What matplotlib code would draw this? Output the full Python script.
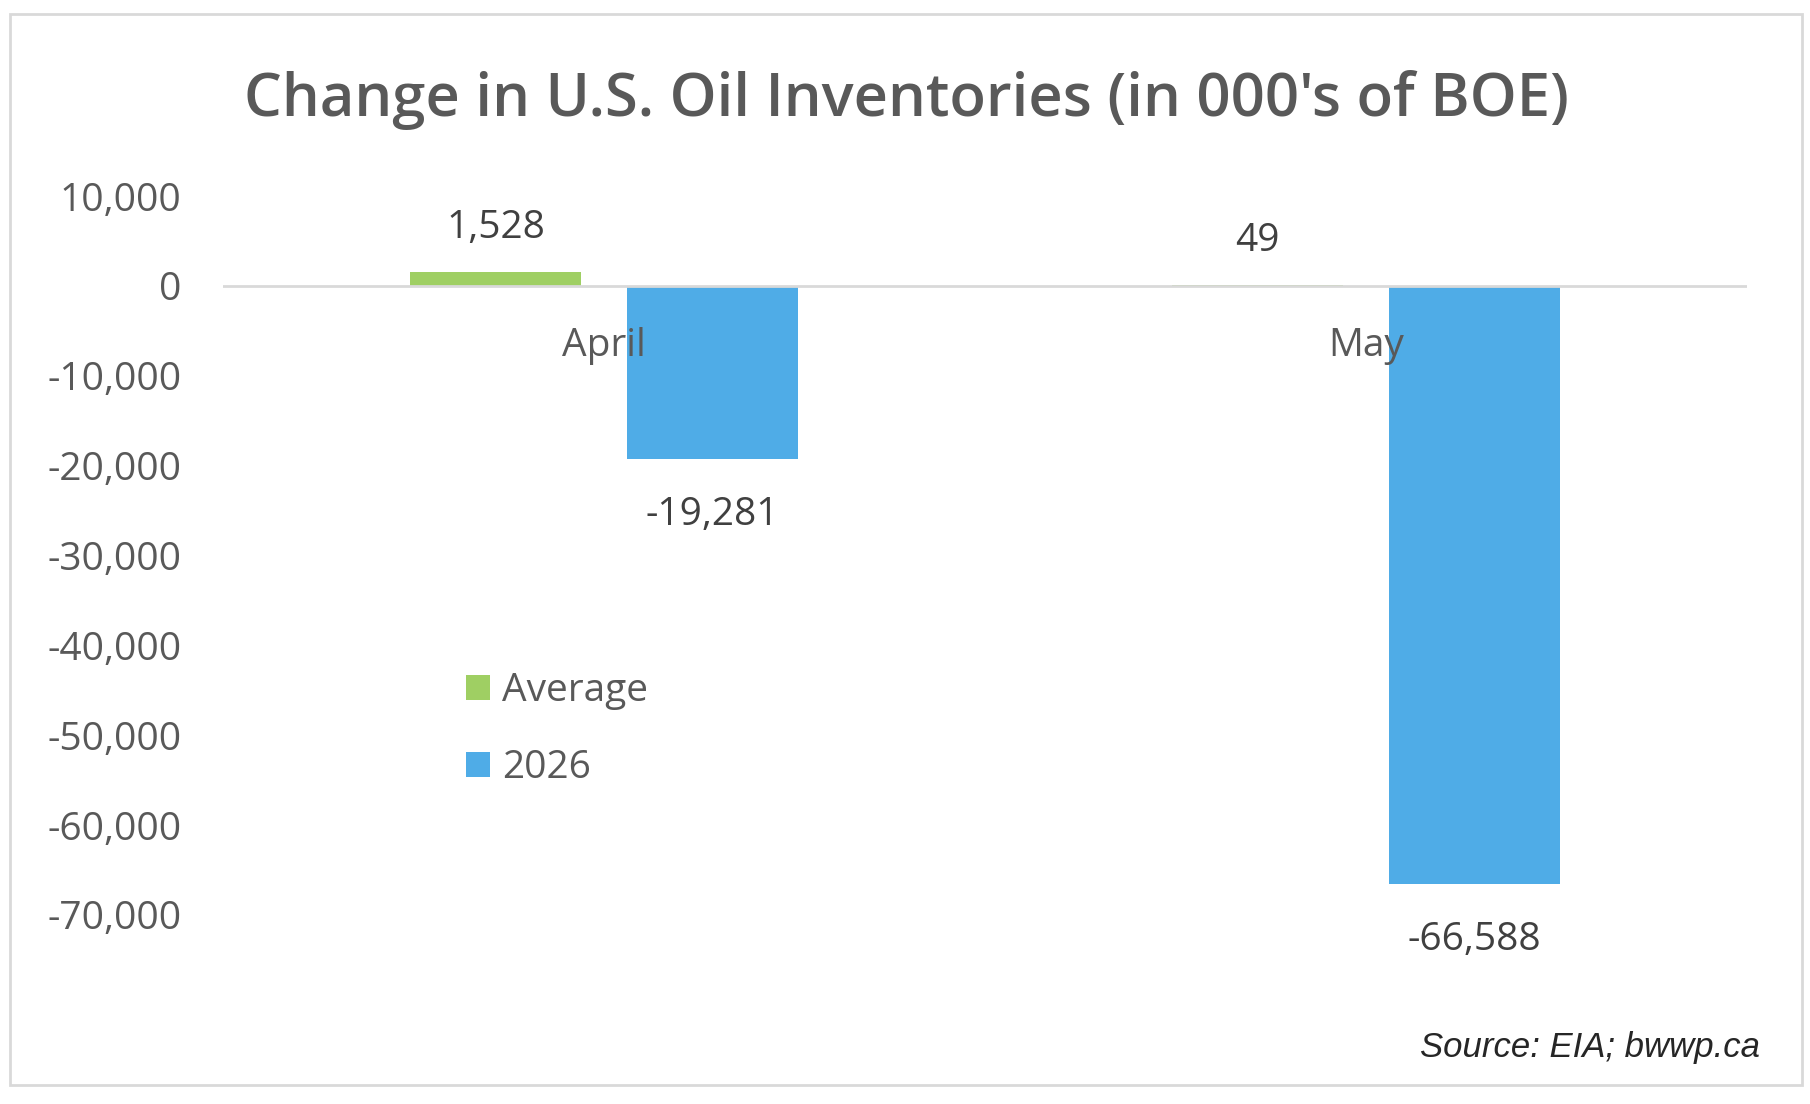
import matplotlib
matplotlib.use("Agg")
import matplotlib.pyplot as plt
from matplotlib.patches import Rectangle

# ---- data ----
categories = ["April", "May"]
series_names = ["Average", "2026"]
average_vals = [1528, 49]
y2026_vals = [-19281, -66588]
yticks = [10000, 0, -10000, -20000, -30000, -40000, -50000, -60000, -70000]
title = "Change in U.S. Oil Inventories (in 000's of BOE)"
source = "Source: EIA; bwwp.ca"

GREEN = "#9FCF63"
BLUE = "#4FACE7"
GREY = "#595959"
DARK = "#404040"
FONT = "Open Sans"
FS = 28
WT = "medium"

W, H = 1810, 1104
fig = plt.figure(figsize=(W / 100, H / 100), dpi=100)

# outer border
fig.patches.append(Rectangle((10 / W, 1 - 1085 / H), (1802 - 10) / W, (1085 - 14) / H,
                             transform=fig.transFigure, fill=False,
                             edgecolor="#D9D9D9", lw=2))

ax = fig.add_axes([223 / W, 1 - 915 / H, (1747 - 223) / W, (915 - 196) / H])
ax.set_xlim(-0.5, 1.5)
ax.set_ylim(-70000, 10000)
for s in ax.spines.values():
    s.set_visible(False)
ax.set_xticks([])
ax.set_yticks(yticks)
ax.set_yticklabels([f"{v:,}" for v in yticks], fontsize=FS, color=GREY, family=FONT, fontweight=WT)
ax.tick_params(axis="y", length=0, pad=30)
ax.axhline(0, color="#D9D9D9", lw=2, zorder=3)

width = 0.2245
off = 0.1424
x = list(range(len(categories)))
b1 = ax.bar([i - off for i in x], average_vals, width, color=GREEN, label=series_names[0], zorder=2)
b2 = ax.bar([i + off for i in x], y2026_vals, width, color=BLUE, label=series_names[1], zorder=2)

for bars, vals in ((b1, average_vals), (b2, y2026_vals)):
    for r, v in zip(bars, vals):
        cx = r.get_x() + r.get_width() / 2
        dy = 32 if v >= 0 else -40
        ax.annotate(f"{v:,}", (cx, v), xytext=(0, dy), textcoords="offset points",
                    ha="center", va="center", fontsize=FS, color=DARK,
                    family=FONT, fontweight=WT, annotation_clip=False)

for i, c in enumerate(categories):
    ax.annotate(c, (i, 0), xytext=(0, -43), textcoords="offset points",
                ha="center", va="center", fontsize=FS, color=GREY, family=FONT, fontweight=WT)

leg = ax.legend(loc="upper left",
                bbox_to_anchor=((466 - 223) / (1747 - 223), (915 - 672) / (915 - 196)),
                frameon=False, prop={"family": FONT, "size": FS, "weight": WT},
                borderpad=0, borderaxespad=0,
                handlelength=0.62, handleheight=0.62, handletextpad=0.3, labelspacing=1.0)
for t in leg.get_texts():
    t.set_color(GREY)

fig.text(906 / W, 1 - 100 / H, title, ha="center", va="center", fontsize=43,
         color=GREY, family=FONT, fontweight="semibold")
fig.text(1760 / W, 1 - 1047 / H, source, ha="right", va="center", fontsize=25,
         color="#262626", family="Liberation Sans", style="italic")

fig.savefig("out.png", dpi=100)
